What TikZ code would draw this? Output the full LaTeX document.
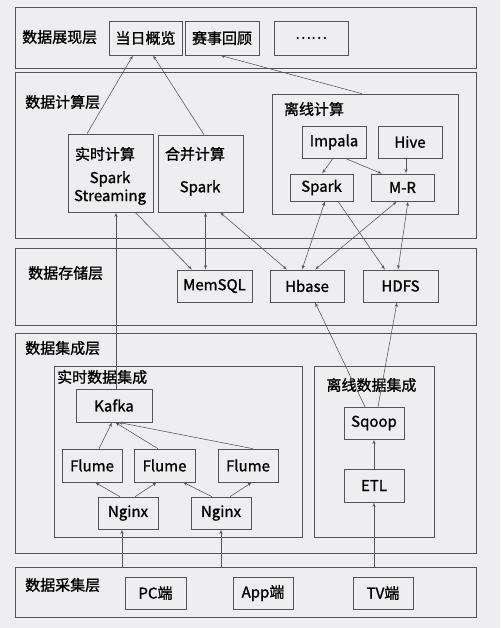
\documentclass[tikz,border=0pt]{standalone}
\usepackage{fontspec}
\setmainfont{Noto Sans CJK SC}[FakeBold=1.2]
\usetikzlibrary{arrows}
\definecolor{bg}{HTML}{EEEEF0}
\definecolor{ln}{HTML}{555555}

\begin{document}
\begin{tikzpicture}[x=1pt,y=-1pt]

\tikzset{layer/.style = {shape=rectangle,draw=ln,fill=bg,line width=0.8pt,inner sep=0pt}}
\tikzset{box/.style = {shape=rectangle,draw=ln,fill=bg,line width=0.6pt,inner sep=0pt,font=\fontsize{15}{18}\selectfont}}
\tikzset{txt/.style = {inner sep=0pt,font=\fontsize{15}{18}\selectfont}}
\tikzset{edge/.style = {->,> = latex',draw=ln,line width=0.55pt}}
\tikzset{twoway/.style = {<->,> = latex',draw=ln,line width=0.55pt}}

\fill[bg] (0,0) rectangle (500,628);
\useasboundingbox (0,0) rectangle (500,628);

%layers
\node[layer, minimum width=461pt, minimum height=61pt] (show) at (245.5,37.5) {};
\node[layer, minimum width=461pt, minimum height=166pt] (compute) at (245.5,155) {};
\node[layer, minimum width=461pt, minimum height=77pt] (store) at (245.5,286.5) {};
\node[layer, minimum width=461pt, minimum height=220pt] (integrate) at (245.5,443) {};
\node[layer, minimum width=461pt, minimum height=50pt] (collect) at (245.5,592) {};
\node[txt, anchor=west] (showlbl) at (22,37) {数据展现层};
\node[txt, anchor=west] (computelbl) at (25,102) {数据计算层};
\node[txt, anchor=west] (storelbl) at (28,273) {数据存储层};
\node[txt, anchor=west] (integratelbl) at (25,348) {数据集成层};
\node[txt, anchor=west] (collectlbl) at (25,585) {数据采集层};

%groups
\node[box, minimum width=85pt, minimum height=78pt] (rt) at (110.5,173) {};
\node[box, minimum width=85pt, minimum height=77pt] (merge) at (200.5,173.5) {};
\node[box, minimum width=186pt, minimum height=120pt] (offline) at (365,154) {};
\node[box, minimum width=248pt, minimum height=171pt] (rtin) at (178,451.5) {};
\node[box, minimum width=120pt, minimum height=171pt] (offin) at (374,451.5) {};
\node[txt] (rtlbl) at (105,154) {实时计算};
\node[txt, align=center] (rtspark) at (110,188) {Spark\\Streaming};
\node[txt] (mergelbl) at (195,154) {合并计算};
\node[txt] (mergespark) at (200,188) {Spark};
\node[txt] (offlinelbl) at (314,109) {离线计算};
\node[txt, anchor=west] (rtinlbl) at (57,377) {实时数据集成};
\node[txt] (offinlbl) at (371.5,385) {离线数据集成};

%boxes
\node[box, minimum width=73pt, minimum height=34pt] (today) at (145.5,38) {当日概览};
\node[box, minimum width=74pt, minimum height=34pt] (review) at (222,38) {赛事回顾};
\node[box, minimum width=74pt, minimum height=34pt] (more) at (311,38) {……};
\node[box, minimum width=64pt, minimum height=32pt] (impala) at (334,142) {Impala};
\node[box, minimum width=64pt, minimum height=32pt] (hive) at (410,142) {Hive};
\node[box, minimum width=63pt, minimum height=27pt] (spark) at (321.5,187.5) {Spark};
\node[box, minimum width=63pt, minimum height=27pt] (mr) at (402.5,187.5) {M-R};
\node[box, minimum width=75pt, minimum height=32pt] (memsql) at (214.5,286) {MemSQL};
\node[box, minimum width=74pt, minimum height=32pt] (hbase) at (307,286) {Hbase};
\node[box, minimum width=75pt, minimum height=32pt] (hdfs) at (400.5,286) {HDFS};
\node[box, minimum width=76pt, minimum height=33pt] (kafka) at (114,405.5) {Kafka};
\node[box, minimum width=60pt, minimum height=33pt] (flume1) at (92,465.5) {Flume};
\node[box, minimum width=61pt, minimum height=33pt] (flume2) at (164.5,465.5) {Flume};
\node[box, minimum width=60pt, minimum height=33pt] (flume3) at (248,465.5) {Flume};
\node[box, minimum width=60pt, minimum height=32pt] (nginx1) at (128,513) {Nginx};
\node[box, minimum width=60pt, minimum height=32pt] (nginx2) at (221,513) {Nginx};
\node[box, minimum width=60pt, minimum height=32pt] (sqoop) at (374,423) {Sqoop};
\node[box, minimum width=60pt, minimum height=33pt] (etl) at (374,485.5) {ETL};
\node[box, minimum width=61pt, minimum height=32pt] (pc) at (155.5,593) {PC端};
\node[box, minimum width=60pt, minimum height=32pt] (app) at (263,593) {App端};
\node[box, minimum width=60pt, minimum height=32pt] (tv) at (383,593) {TV端};

%edges
\draw [edge] ([xshift=-23.5pt]rt.north) -- ([xshift=-12.5pt]today.south);
\draw [edge] ([xshift=3.5pt]merge.north) -- ([xshift=7.5pt]today.south);
\draw [edge] ([xshift=-3pt]offline.north) -- ([xshift=-2pt]review.south);
\draw [edge] ([xshift=-1pt]impala.south) -- ([xshift=0.5pt]spark.north);
\draw [edge] ([xshift=11pt]impala.south) -- ([xshift=-20.5pt]mr.north);
\draw [edge] ([xshift=-4pt]hive.south) -- ([xshift=3.5pt]mr.north);
\draw [edge] ([xshift=24.5pt]rt.south) -- ([xshift=-22.5pt]memsql.north);
\draw [twoway] ([xshift=-9pt]memsql.north) -- ([xshift=5pt]merge.south);
\draw [twoway] ([xshift=19.5pt]merge.south) -- ([xshift=-20pt]hbase.north);
\draw [twoway] ([xshift=3.5pt]spark.south) -- ([xshift=-5pt]hbase.north);
\draw [twoway] ([xshift=-5.5pt]mr.south) -- ([xshift=8pt]hbase.north);
\draw [edge] ([xshift=16.5pt]spark.south) -- ([xshift=-15.5pt]hdfs.north);
\draw [twoway] ([xshift=5.5pt]mr.south) -- ([xshift=-2.5pt]hdfs.north);
\draw [edge] ([xshift=-9pt]sqoop.north) -- ([xshift=8pt]hbase.south);
\draw [edge] ([xshift=4pt]sqoop.north) -- ([xshift=-3.5pt]hdfs.south);
\draw [edge] ([xshift=2pt]kafka.north) -- ([xshift=5.5pt]rt.south);
\draw [edge] ([xshift=7pt]flume1.north) -- ([xshift=-2pt]kafka.south);
\draw [edge] ([xshift=-6.5pt]flume2.north) -- ([xshift=1pt]kafka.south);
\draw [edge] ([xshift=5pt]flume3.north) -- ([xshift=4pt]kafka.south);
\draw [edge] ([xshift=-8pt]nginx1.north) -- ([xshift=3pt]flume1.south);
\draw [edge] ([xshift=7pt]nginx1.north) -- ([xshift=-7.5pt]flume2.south);
\draw [edge] ([xshift=-9pt]nginx2.north) -- ([xshift=18.5pt]flume2.south);
\draw [edge] ([xshift=9pt]nginx2.north) -- ([xshift=4pt]flume3.south);
\draw [edge] (etl.north) -- (sqoop.south);
\draw [edge] ([xshift=-6pt]nginx1.south |- collect.north) -- ([xshift=-6pt]nginx1.south);
\draw [edge] (nginx2.south |- collect.north) -- (nginx2.south);
\draw [edge] (etl.south |- collect.north) -- (etl.south);

\end{tikzpicture}
\end{document}
